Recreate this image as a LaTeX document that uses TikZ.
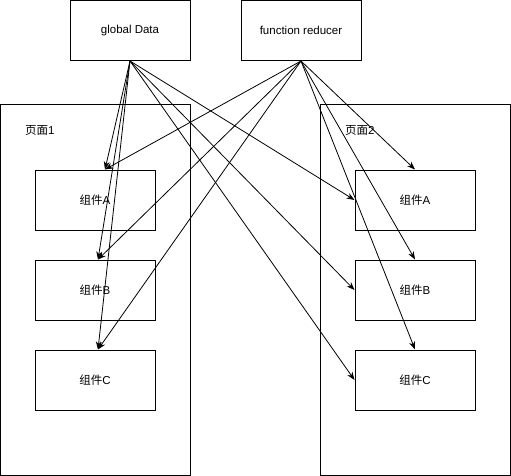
\documentclass[tikz,border=0pt]{standalone}
\usepackage{fontspec}
\setmainfont{Liberation Sans}
\newfontfamily\cjk{Noto Sans CJK SC}
\usetikzlibrary{arrows.meta,calc}
\begin{document}
\begin{tikzpicture}[x=1pt,y=-1pt,
  box/.style={draw,line width=1pt,minimum width=120pt,minimum height=60pt,inner sep=0pt,font=\fontsize{11.5}{13}\selectfont},
  frame/.style={draw,line width=1pt},
  arr/.style={line width=0.8pt,-{Stealth[length=8pt,width=6pt,inset=2.5pt]}},
  lbl/.style={anchor=west,inner sep=0pt,font=\fontsize{11.5}{13}\selectfont}]
\useasboundingbox (0,0) rectangle (511,476);
% containers
\draw[frame] (0.5,104.5) rectangle (190,475.5);
\draw[frame] (320,104.5) rectangle (510.5,475.5);
\node[lbl] (p1) at (25,130) {{\cjk 页面}1};
\node[lbl] (p2) at (345,130) {{\cjk 页面}2};
% sources
\node[box] (gd) at (130,30.5) {global Data};
\node[box] (fr) at (301,30.5) {function reducer};
% components
\node[box] (la) at (95,200) {{\cjk 组件}A};
\node[box] (lb) at (95,290) {{\cjk 组件}B};
\node[box] (lc) at (95,380) {{\cjk 组件}C};
\node[box] (ra) at (415,200) {{\cjk 组件}A};
\node[box] (rb) at (415,290) {{\cjk 组件}B};
\node[box] (rc) at (415,380) {{\cjk 组件}C};
% target points
\coordinate (ta) at ($(la.north)+(10,0)$);
\coordinate (tb) at ($(lb.north)+(3,0)$);
\coordinate (tc) at ($(lc.north)+(3,0)$);
% global Data arrows
\draw[arr] (gd.south) -- (ta);
\draw[arr] (gd.south) -- (tb);
\draw[arr] (gd.south) -- (tc);
\draw[arr] (gd.south) -- (ra.west);
\draw[arr] (gd.south) -- (rb.west);
\draw[arr] (gd.south) -- (rc.west);
% function reducer arrows
\draw[arr] (fr.south) -- (ta);
\draw[arr] (fr.south) -- (tb);
\draw[arr] (fr.south) -- (tc);
\draw[arr] (fr.south) -- (ra.north);
\draw[arr] (fr.south) -- (rb.north);
\draw[arr] (fr.south) -- (rc.north);
\end{tikzpicture}
\end{document}
